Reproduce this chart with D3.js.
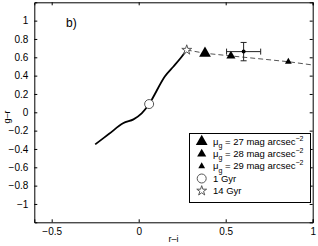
<!DOCTYPE html>
<html>
<head>
<meta charset="utf-8">
<script src="https://cdn.jsdelivr.net/npm/d3@7"></script>
<style>
  body { margin: 0; background: #fff; }
  svg text { font-family: "Liberation Sans", Arial, sans-serif; fill: #000; }
</style>
</head>
<body>
<div class="chart"></div>
<script>
// model track (solid), ages 1 Gyr .. 14 Gyr
var trackX = [-0.25, -0.17, -0.09, -0.03, 0.017, 0.06, 0.15, 0.20, 0.24, 0.276];
var trackY = [-0.35, -0.235, -0.12, -0.077, -0.011, 0.09, 0.39, 0.50, 0.59, 0.68];

// observed colours at the three surface brightness levels (dashed)
var obsX = [0.276, 0.381, 0.530, 0.860, 1.0];
var obsY = [0.68, 0.644, 0.615, 0.552, 0.516];

var triX = [0.381, 0.530, 0.860];
var triY = [0.644, 0.615, 0.552];
var triLabels = ["27", "28", "29"];

// single point with error bars
var errX = [0.603], errY = [0.662];
var errDx = [0.098], errDy = [0.10];

var ageLabels = ["1 Gyr", "14 Gyr"];
var youngX = [0.06], youngY = [0.09];
var oldX = [0.276], oldY = [0.68];

var xTicks = [-0.5, 0, 0.5, 1];
var yTicks = [-1, -0.8, -0.6, -0.4, -0.2, 0, 0.2, 0.4, 0.6, 0.8, 1];

//Width and height
var w = 318;
var h = 246;

var svg = d3.select(".chart")
            .append("svg")
            .attr("width", w)
            .attr("height", h);

var x = d3.scaleLinear().domain([-0.6, 1]).range([34.3, 312.7]);
var y = d3.scaleLinear().domain([-1.2, 1.2]).range([222.3, 2.3]);

var fmt = d3.format("~g");

//----------------------------------------------------------
// axes, ticks pointing inward on all four sides

svg.append("g")
   .attr("transform", "translate(0," + y(-1.2) + ")")
   .call(d3.axisBottom(x).tickValues(xTicks).tickSize(-3).tickPadding(6).tickFormat(fmt));
svg.append("g")
   .attr("transform", "translate(0," + y(1.2) + ")")
   .call(d3.axisTop(x).tickValues(xTicks).tickSize(-3).tickFormat(""));
svg.append("g")
   .attr("transform", "translate(" + x(-0.6) + ",0)")
   .call(d3.axisLeft(y).tickValues(yTicks).tickSize(-3).tickPadding(6).tickFormat(fmt));
svg.append("g")
   .attr("transform", "translate(" + x(1) + ",0)")
   .call(d3.axisRight(y).tickValues(yTicks).tickSize(-3).tickFormat(""));

svg.selectAll(".domain").attr("stroke", "#000");
svg.selectAll(".tick line").attr("stroke", "#000");
svg.selectAll(".tick text").attr("font-size", 10).attr("font-family", "Liberation Sans, Arial, sans-serif");

svg.append("text")
   .attr("x", (x(-0.6) + x(1)) / 2)
   .attr("y", 242)
   .attr("text-anchor", "middle")
   .attr("font-size", 9)
   .text("r\u2013i");

svg.append("text")
   .attr("transform", "translate(10," + 117 + ") rotate(-90)")
   .attr("text-anchor", "middle")
   .attr("font-size", 9)
   .text("g\u2013r");

svg.append("text")
   .attr("x", 66)
   .attr("y", 27)
   .attr("font-size", 12)
   .text("b)");

//----------------------------------------------------------
// lines

var line = d3.line()
  .x(function(d) { return x(d[0]); })
  .y(function(d) { return y(d[1]); });

svg.append("path")
   .datum(trackX.map(function(v, i) { return [v, trackY[i]]; }))
   .attr("d", d3.line().curve(d3.curveCatmullRom).x(function(d) { return x(d[0]); }).y(function(d) { return y(d[1]); }))
   .attr("fill", "none")
   .attr("stroke", "#000")
   .attr("stroke-width", 1.8);

svg.append("path")
   .datum(obsX.map(function(v, i) { return [v, obsY[i]]; }))
   .attr("d", line)
   .attr("fill", "none")
   .attr("stroke", "#555")
   .attr("stroke-width", 1)
   .attr("stroke-dasharray", "5,3");

//----------------------------------------------------------
// markers

var triSizes = [60, 36, 20];

svg.selectAll(".tri")
   .data(triX)
   .enter()
   .append("path")
   .attr("class", "tri")
   .attr("transform", function(d, i) { return "translate(" + x(d) + "," + y(triY[i]) + ")"; })
   .attr("d", function(d, i) { return d3.symbol(d3.symbolTriangle, triSizes[i])(); })
   .attr("fill", "#000");

var eg = svg.append("g").attr("stroke", "#222").attr("stroke-width", 1);
errX.forEach(function(d, i) {
  eg.append("line").attr("x1", x(d - errDx[i])).attr("x2", x(d + errDx[i]))
    .attr("y1", y(errY[i])).attr("y2", y(errY[i]));
  eg.append("line").attr("x1", x(d)).attr("x2", x(d))
    .attr("y1", y(errY[i] - errDy[i])).attr("y2", y(errY[i] + errDy[i]));
  [-errDy[i], errDy[i]].forEach(function(o) {
    eg.append("line").attr("x1", x(d) - 3).attr("x2", x(d) + 3)
      .attr("y1", y(errY[i] + o)).attr("y2", y(errY[i] + o));
  });
  [-errDx[i], errDx[i]].forEach(function(o) {
    eg.append("line").attr("x1", x(d + o)).attr("x2", x(d + o))
      .attr("y1", y(errY[i]) - 3).attr("y2", y(errY[i]) + 3);
  });
  svg.append("circle").attr("cx", x(d)).attr("cy", y(errY[i])).attr("r", 2).attr("fill", "#000");
});

svg.selectAll(".young")
   .data(youngX)
   .enter()
   .append("circle")
   .attr("cx", function(d) { return x(d); })
   .attr("cy", function(d, i) { return y(youngY[i]); })
   .attr("r", 4.5)
   .attr("fill", "#fff")
   .attr("stroke", "#555");

svg.selectAll(".old")
   .data(oldX)
   .enter()
   .append("path")
   .attr("transform", function(d, i) { return "translate(" + x(d) + "," + y(oldY[i]) + ")"; })
   .attr("d", d3.symbol(d3.symbolStar, 30)())
   .attr("fill", "#fff")
   .attr("stroke", "#555");

//----------------------------------------------------------
// legend

var lg = svg.append("g");
lg.append("rect")
  .attr("x", 189.5).attr("y", 133.5)
  .attr("width", 121).attr("height", 69)
  .attr("fill", "#fff").attr("stroke", "#000");

var rowY = function(i) { return 141.6 + i * 12.3; };
var mx = 201.7, tx = 213;

triLabels.forEach(function(lab, i) {
  lg.append("path")
    .attr("transform", "translate(" + mx + "," + rowY(i) + ")")
    .attr("d", d3.symbol(d3.symbolTriangle, triSizes[i])())
    .attr("fill", "#000");
  var t = lg.append("text").attr("x", tx).attr("y", rowY(i) + 3).attr("font-size", 9.5);
  t.append("tspan").text("\u03bc");
  t.append("tspan").attr("dy", 3.5).attr("font-size", 7).text("g");
  t.append("tspan").attr("dy", -3.5).text(" = " + lab + " mag arcsec");
  t.append("tspan").attr("dy", -4).attr("font-size", 7).text("\u22122");
});

lg.append("circle")
  .attr("cx", mx).attr("cy", rowY(3)).attr("r", 4.5)
  .attr("fill", "#fff").attr("stroke", "#555");
lg.append("path")
  .attr("transform", "translate(" + mx + "," + rowY(4) + ")")
  .attr("d", d3.symbol(d3.symbolStar, 30)())
  .attr("fill", "#fff").attr("stroke", "#555");

ageLabels.forEach(function(lab, i) {
  lg.append("text").attr("x", tx).attr("y", rowY(3 + i) + 3.5)
    .attr("font-size", 9.5).text(lab);
});
</script>
</body>
</html>
